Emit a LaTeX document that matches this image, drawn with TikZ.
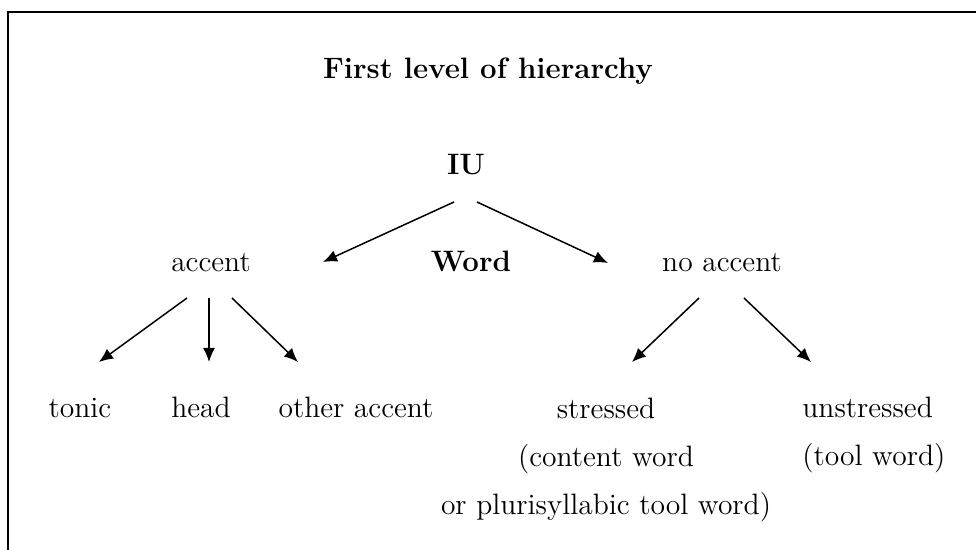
\documentclass[tikz,border=0pt]{standalone}
\usetikzlibrary{arrows.meta, calc}

\begin{document}
\begin{tikzpicture}[x=0.5pt, y=-0.5pt, font=\fontsize{14.75}{24}\selectfont,
	lbl/.style={inner sep=0pt, anchor=base},
	arr/.style={line width=0.75pt, -{Latex[length=7pt, width=6pt]}}]

	\useasboundingbox (0,0) rectangle (976,550);
	\draw[line width=1pt] (8,560) |- (990,12);

	\node[lbl] (title) at (488,79) {\bfseries First level of hierarchy};
	\node[lbl] (IU) at (466,175) {\bfseries IU};

	\node[lbl] (accent) at (211,272) {accent};
	\node[lbl] (word) at (471,272) {\bfseries Word};
	\node[lbl] (noaccent) at (722,272) {no accent};

	\node[lbl] (tonic) at (80,418) {tonic};
	\node[lbl] (head) at (201,418) {head};
	\node[lbl] (other) at (356,418) {other accent};
	% base of a multi-line node = its last line
	\node[lbl, align=center] (stressed) at (606,515) {stressed\\(content word\\or plurisyllabic tool word)};
	\node[lbl, anchor=base west, align=left] (unstressed) at (802,466) {unstressed\\(tool word)};

	\draw[arr] ($(IU.base)+(-12,27)$) -- ($(accent.base)+(112,-10)$);
	\draw[arr] ($(IU.base)+(11,27)$) -- ($(noaccent.base)+(-114,-9)$);

	\draw[arr] ($(accent.base)+(-24,26)$) -- ($(tonic.base)+(19,-56)$);
	\draw[arr] ($(accent.base)+(-2,26)$) -- ($(head.base)+(8,-56)$);
	\draw[arr] ($(accent.base)+(21,26)$) -- ($(other.base)+(-58,-56)$);

	\draw[arr] ($(noaccent.base)+(-23,26)$) -- ($(stressed.base)+(26,-153)$);
	\draw[arr] ($(noaccent.base)+(22,26)$) -- ($(unstressed.base west)+(9,-104)$);

\end{tikzpicture}
\end{document}
